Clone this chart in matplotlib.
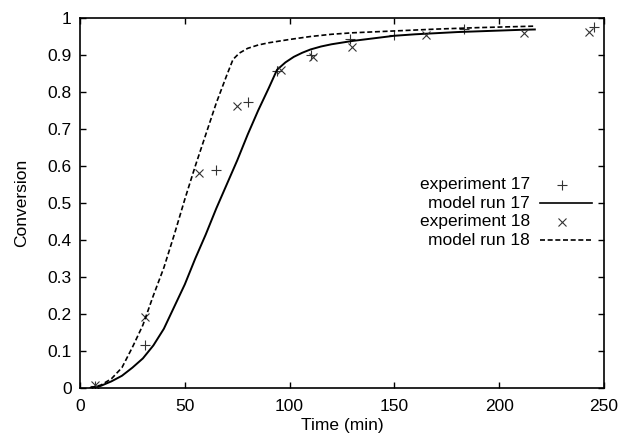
import matplotlib
matplotlib.use("Agg")
import matplotlib.pyplot as plt
from matplotlib.lines import Line2D

plt.rcParams['font.family'] = ['Liberation Sans', 'DejaVu Sans']

# experimental data
exp17_t = [7, 31, 65, 80, 94, 110, 129, 150, 183, 245]
exp17_x = [0.005, 0.116, 0.589, 0.773, 0.857, 0.900, 0.943, 0.954, 0.970, 0.976]
exp18_t = [7, 31, 57, 75, 96, 111, 130, 165, 212, 243]
exp18_x = [0.008, 0.191, 0.582, 0.762, 0.859, 0.895, 0.922, 0.954, 0.959, 0.961]

# model curves
model17_t = [5, 10, 15, 20, 25, 30, 35, 40, 45, 50, 55, 60, 65, 70, 75, 80, 85, 90, 94,
             98, 102, 106, 110, 115, 120, 130, 140, 150, 160, 170, 180, 190, 200, 210, 217]
model17_x = [0.0, 0.006, 0.018, 0.033, 0.055, 0.08, 0.115, 0.16, 0.22, 0.28, 0.35, 0.415,
             0.485, 0.55, 0.615, 0.685, 0.75, 0.81, 0.86, 0.88, 0.895, 0.906, 0.915, 0.923,
             0.929, 0.938, 0.945, 0.952, 0.956, 0.959, 0.962, 0.964, 0.966, 0.968, 0.969]
model18_t = [5, 10, 15, 20, 25, 30, 35, 40, 45, 50, 55, 60, 65, 70, 73, 76, 80, 85, 90,
             100, 110, 120, 130, 150, 170, 190, 217]
model18_x = [0.0, 0.008, 0.025, 0.055, 0.11, 0.17, 0.25, 0.325, 0.415, 0.51, 0.6, 0.685,
             0.77, 0.845, 0.888, 0.905, 0.918, 0.927, 0.933, 0.942, 0.95, 0.956, 0.96,
             0.965, 0.97, 0.974, 0.978]

labels = ["experiment 17", "model run 17", "experiment 18", "model run 18"]
xticks = [0, 50, 100, 150, 200, 250]
yticks = [0, 0.1, 0.2, 0.3, 0.4, 0.5, 0.6, 0.7, 0.8, 0.9, 1]
ytick_labels = ["0", "0.1", "0.2", "0.3", "0.4", "0.5", "0.6", "0.7", "0.8", "0.9", "1"]

FS = 12.5
fig = plt.figure(figsize=(6.18, 4.40), dpi=100)
ax = fig.add_axes([80/618, 52/440, 524/618, 370/440])

mk_col = '#333333'
plus_style = dict(linestyle='none', marker='+', markersize=6.5, markeredgewidth=0.8, color=mk_col)
x_style = dict(linestyle='none', marker='x', markersize=6, markeredgewidth=0.8, color=mk_col)
solid_style = dict(linestyle='-', color='black', linewidth=1.4)
dash_style = dict(linestyle=(0, (3, 1.6)), color='black', linewidth=1.2)

ax.plot(exp17_t, exp17_x, **plus_style)
ax.plot(model17_t, model17_x, **solid_style)
ax.plot(exp18_t, exp18_x, **x_style)
ax.plot(model18_t, model18_x, **dash_style)

ax.set_xlim(0, 250)
ax.set_ylim(0, 1)
ax.set_xticks(xticks)
ax.set_xticklabels([str(v) for v in xticks])
ax.set_yticks(yticks)
ax.set_yticklabels(ytick_labels)
ax.tick_params(direction='in', top=True, right=True, length=4.5, width=1,
               labelsize=FS, pad=6)
ax.tick_params(axis='x', pad=8)
for s in ax.spines.values():
    s.set_linewidth(1.2)

ax.set_xlabel("Time (min)", fontsize=FS, labelpad=3)
ax.set_ylabel("Conversion", fontsize=FS, labelpad=13)

# legend (gnuplot style: right-aligned text, sample on the right)
styles = [plus_style, dict(solid_style, linewidth=1.2), x_style, dash_style]
row_y = [0.549, 0.500, 0.449, 0.400]
for lab, st, yy in zip(labels, styles, row_y):
    ax.text(0.859, yy, lab, transform=ax.transAxes, ha='right', va='center', fontsize=FS)
    if st['linestyle'] == 'none':
        ax.add_line(Line2D([0.92], [yy], transform=ax.transAxes, **st))
    else:
        ax.add_line(Line2D([0.878, 0.977], [yy, yy], transform=ax.transAxes, **st))

fig.savefig("out.png", dpi=100)
